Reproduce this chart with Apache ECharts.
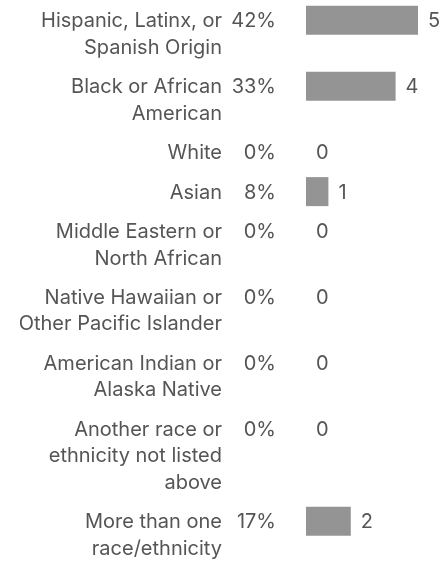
<!DOCTYPE html>
<html><head><meta charset="utf-8">
<script src="https://cdn.jsdelivr.net/npm/echarts@6/dist/echarts.min.js"></script>
<style>html,body{margin:0;padding:0;background:#fff}#c{width:440px;height:563px}</style>
</head><body><div id="c"></div>
<script>
const categories = [
  "Hispanic, Latinx, or\nSpanish Origin",
  "Black or African\nAmerican",
  "White",
  "Asian",
  "Middle Eastern or\nNorth African",
  "Native Hawaiian or\nOther Pacific Islander",
  "American Indian or\nAlaska Native",
  "Another race or\nethnicity not listed\nabove",
  "More than one\nrace/ethnicity"
];
const counts = [5, 4, 0, 1, 0, 0, 0, 0, 2];
const percents = ["42%", "33%", "0%", "8%", "0%", "0%", "0%", "0%", "17%"];

const GAP = 0.495; // gap between rows, in text-line units
const LINE_H = 26.4;
const FONT = '20px "Inter", "Noto Sans", sans-serif';
const TXT = '#555555';

let pos = 0;
const rows = categories.map((c, i) => {
  const lines = c.split('\n').length;
  const center = pos + 0.5;
  pos += lines + GAP;
  return [counts[i], center, i];
});
const total = pos - GAP;

const chart = echarts.init(document.getElementById('c'), null, {renderer: 'canvas'});
chart.setOption({
  animation: false,
  grid: {left: 306, right: 22, top: 7, bottom: 2},
  xAxis: {type: 'value', min: 0, max: 5, show: false},
  yAxis: {type: 'value', inverse: true, min: 0, max: total, show: false},
  series: [{
    type: 'custom',
    data: rows,
    renderItem: function (params, api) {
      const v = api.value(0), y = api.value(1), i = api.value(2);
      const s = api.coord([0, y]);
      const e = api.coord([v, y]);
      const top = s[1] - LINE_H / 2 + 1;
      const children = [];
      if (v > 0) {
        children.push({type: 'rect', shape: {x: s[0], y: s[1] - 14.5, width: e[0] - s[0], height: 29},
          style: {fill: '#949494'}});
      }
      children.push({type: 'text', x: s[0] - 84, y: top,
        style: {text: categories[i], fill: TXT, font: FONT, align: 'right', verticalAlign: 'top', lineHeight: LINE_H}});
      children.push({type: 'text', x: s[0] - 30, y: top,
        style: {text: percents[i], fill: TXT, font: FONT, align: 'right', verticalAlign: 'top', lineHeight: LINE_H}});
      children.push({type: 'text', x: e[0] + 10, y: top,
        style: {text: String(counts[i]), fill: TXT, font: FONT, align: 'left', verticalAlign: 'top', lineHeight: LINE_H}});
      return {type: 'group', children: children};
    }
  }]
});
</script></body></html>
